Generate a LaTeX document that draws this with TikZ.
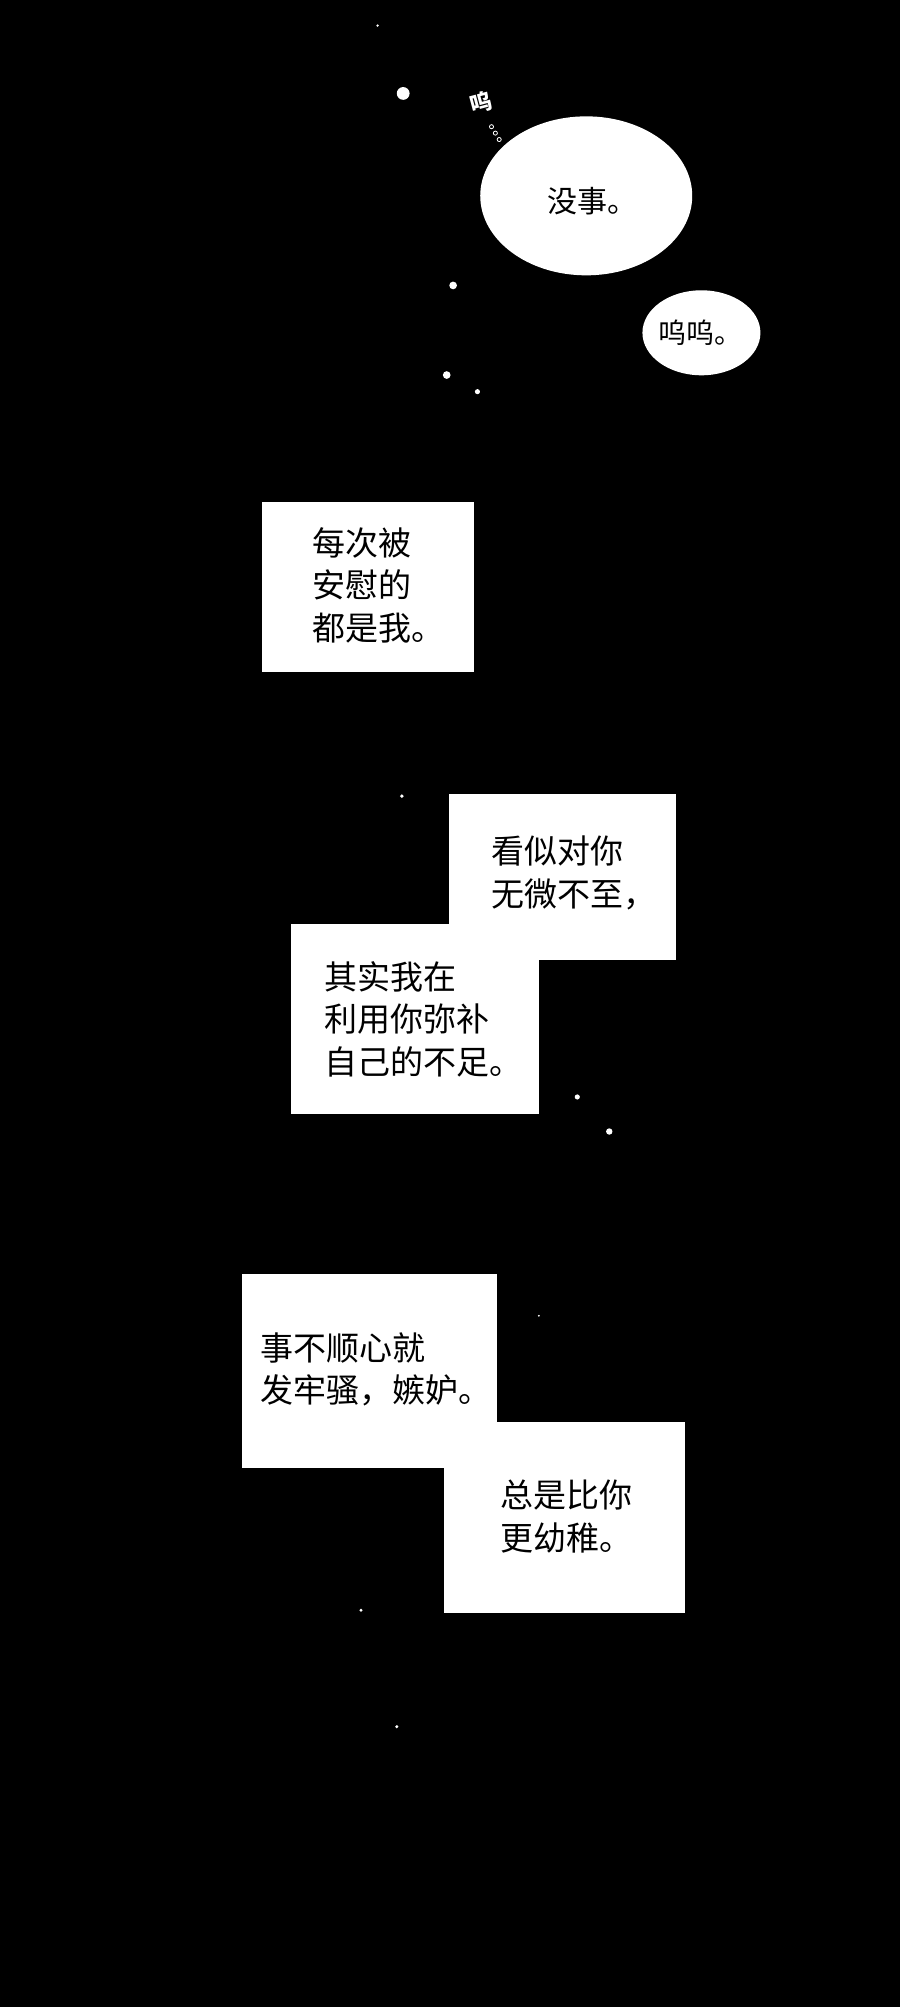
\documentclass[tikz,border=0pt]{standalone}
\usepackage{fontspec}
\usetikzlibrary{shapes.geometric}
\newfontfamily\cjk{Noto Sans CJK SC}
\begin{document}
\begin{tikzpicture}[x=1.28pt,y=-1.28pt,
  box/.style={fill=white,draw=none},
  txt/.style={anchor=north west,align=left,inner sep=0pt,font=\cjk\fontsize{33}{42.5}\selectfont,text=black},
  dot/.style={fill=white,draw=none}]
\fill[black] (0,0) rectangle (703,1568);
\useasboundingbox (0,0) rectangle (703,1568);
% dots
\foreach \x/\y/\r in {295/20/1,315/73/5,354/223/3,349/293/3,373/306/2,314/622/1.5,451/857/2,476/884/2.5,421/1028/0.8,282/1258/1.3,310/1349/1.3}
  \fill[dot] (\x,\y) circle[radius=\r];
% bubbles
\node[ellipse,fill=white,minimum width=212pt,minimum height=159pt] (b1) at (458,153) {};
\node[font=\cjk\fontsize{30}{36}\selectfont] (t1) at (463,157) {没事。};
\node[ellipse,fill=white,minimum width=118pt,minimum height=85pt] (b2) at (548,260) {};
\node[font=\cjk\fontsize{28}{34}\selectfont] (t2) at (547,260) {呜呜。};
% hand sound
\node[rotate=15,font=\cjk\bfseries\fontsize{22}{24}\selectfont,text=white] (w) at (376,80) {呜};
\foreach \y/\xx in {99/384,104/387,109/390} \draw[white,line width=0.8pt] (\xx,\y) circle[radius=1.6];
% boxes
\fill[box] (205,392) rectangle (370,525);
\node[txt] (r1) at (244,412) {每次被\\安慰的\\都是我。};
\fill[box] (351,620) rectangle (528,750);
\node[txt] (r2) at (384,653) {看似对你\\无微不至，};
\fill[box] (227,722) rectangle (421,870);
\node[txt] (r3) at (253,751) {其实我在\\利用你弥补\\自己的不足。};
\fill[box] (189,995) rectangle (388,1147);
\node[txt] (r4) at (203,1041) {事不顺心就\\发牢骚，嫉妒。};
\fill[box] (347,1111) rectangle (535,1260);
\node[txt] (r5) at (391,1156) {总是比你\\更幼稚。};
\end{tikzpicture}
\end{document}
